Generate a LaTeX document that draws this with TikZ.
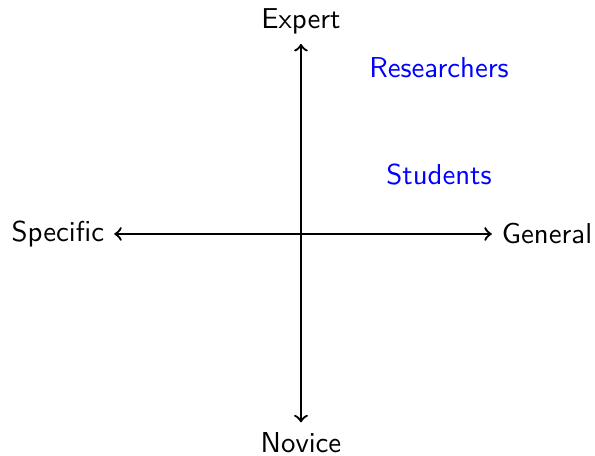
\documentclass[tikz,border=0pt]{standalone}
\usepackage{tikz}

\begin{document}
\begin{tikzpicture}[font=\sffamily, axis/.style={<->, thick}, group/.style={text=blue}]
            \useasboundingbox (-3.675,-2.70) rectangle (3.59,2.857);
            \coordinate (west) at (-2.28,0);
            \coordinate (east) at (2.33,0);
            \coordinate (north) at (0,2.32);
            \coordinate (south) at (0,-2.30);
            \node (specific) [left] at (west) {Specific};
            \node (general) [right] at (east) {General};
            \node (expert) [above] at (north) {Expert};
            \node (novice) [below] at (south) {Novice};
            \draw [axis] (west) -- (east);
            \draw [axis] (south) -- (north);
            \node (researchers) [group] at (1.685,2.03) {Researchers};
            \node (students) [group] at (1.685,0.73) {Students};
        \end{tikzpicture}
\end{document}
